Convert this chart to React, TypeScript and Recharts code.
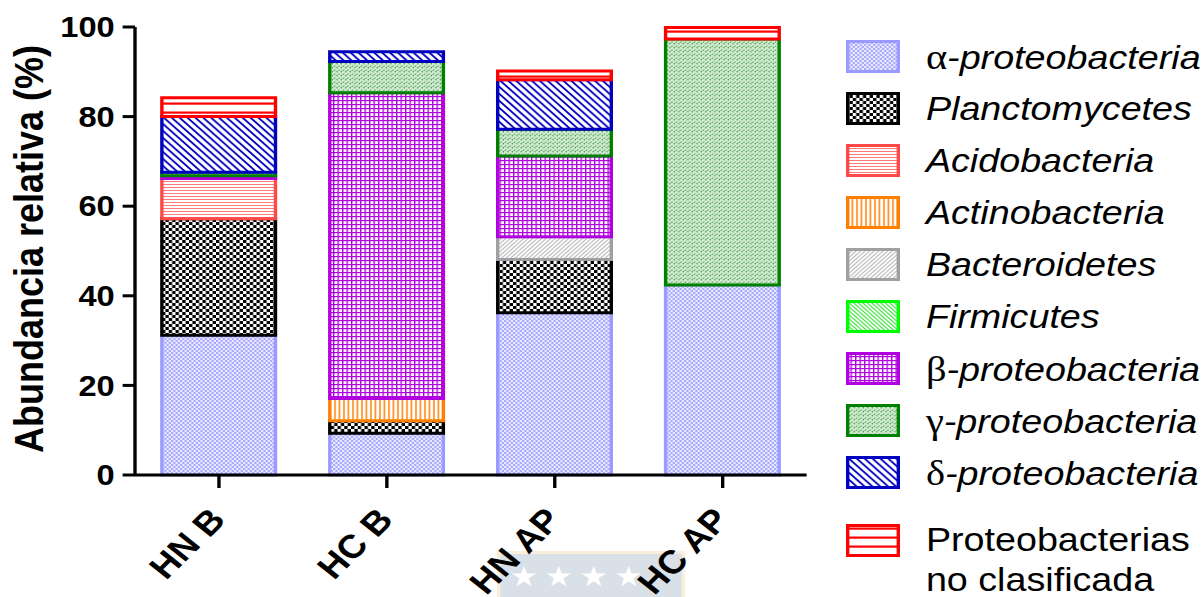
import { Bar, BarChart, XAxis, YAxis } from "recharts";

// groups on the x axis
const CATEGORIES = ["HN B", "HC B", "HN AP", "HC AP"];

// relative abundance (%) per group
const ALPHA_PROTEO = [31.2, 9.3, 36.2, 42.4];
const PLANCTOMYCETES = [26, 2.8, 11.9, 0];
const ACIDOBACTERIA = [9, 0, 0, 0];
const ACTINOBACTERIA = [0, 5, 0, 0];
const BACTEROIDETES = [0, 0, 5.1, 0];
const FIRMICUTES = [0, 0, 0, 0];
const BETA_PROTEO = [0.6, 68.2, 18, 0];
const GAMMA_PROTEO = [0.8, 7, 6, 54.9];
const DELTA_PROTEO = [12.4, 2.2, 11, 0];
const UNCLASSIFIED = [4.2, 0, 2, 2.6];

const Y_TICKS = [0, 20, 40, 60, 80, 100];

const SERIES = [
  { key: "alpha", values: ALPHA_PROTEO, color: "#9b9bff", pattern: "pat-alpha", greek: "α", name: "-proteobacteria" },
  { key: "plancto", values: PLANCTOMYCETES, color: "#000000", pattern: "pat-plancto", greek: "", name: "Planctomycetes" },
  { key: "acido", values: ACIDOBACTERIA, color: "#ff4848", pattern: "pat-acido", greek: "", name: "Acidobacteria" },
  { key: "actino", values: ACTINOBACTERIA, color: "#ff8000", pattern: "pat-actino", greek: "", name: "Actinobacteria" },
  { key: "bact", values: BACTEROIDETES, color: "#a0a0a4", pattern: "pat-bact", greek: "", name: "Bacteroidetes" },
  { key: "firm", values: FIRMICUTES, color: "#00ff00", pattern: "pat-firm", greek: "", name: "Firmicutes" },
  { key: "beta", values: BETA_PROTEO, color: "#b000e0", pattern: "pat-beta", greek: "β", name: "-proteobacteria" },
  { key: "gamma", values: GAMMA_PROTEO, color: "#008000", pattern: "pat-gamma", greek: "γ", name: "-proteobacteria" },
  { key: "delta", values: DELTA_PROTEO, color: "#0000c0", pattern: "pat-delta", greek: "δ", name: "-proteobacteria" },
  { key: "unclass", values: UNCLASSIFIED, color: "#ff0000", pattern: "pat-unclass", greek: "", name: "Proteobacterias no clasificada" },
];

const data = CATEGORIES.map((name, i) => {
  const row: Record<string, string | number> = { name };
  SERIES.forEach((s) => (row[s.key] = s.values[i]));
  return row;
});

// the original figure is stretched sideways, so the whole thing is drawn narrow and scaled
const STRETCH = 1.125;
const W = 1070;
const H = 597;
const FONT = '"Liberation Sans", Arial, sans-serif';

function Patterns() {
  return (
    <svg width={0} height={0} style={{ position: "absolute" }}>
      <defs>
        <pattern id="pat-alpha" width={4} height={4} patternUnits="userSpaceOnUse">
          <rect width={4} height={4} fill="#ececff" />
          <rect width={2} height={2} fill="#a8a8ff" />
          <rect x={2} y={2} width={2} height={2} fill="#a8a8ff" />
        </pattern>
        <pattern id="pat-plancto" width={6} height={6} patternUnits="userSpaceOnUse">
          <rect width={6} height={6} fill="#fff" />
          <rect width={3} height={3} fill="#000" />
          <rect x={3} y={3} width={3} height={3} fill="#000" />
        </pattern>
        <pattern id="pat-acido" width={4} height={3} patternUnits="userSpaceOnUse">
          <rect width={4} height={3} fill="#fff" />
          <rect y={1} width={4} height={1} fill="#ff7a7a" />
        </pattern>
        <pattern id="pat-actino" width={4} height={4} patternUnits="userSpaceOnUse">
          <rect width={4} height={4} fill="#fff" />
          <rect x={1} width={1.5} height={4} fill="#ff8c1a" />
        </pattern>
        <pattern id="pat-bact" width={4} height={4} patternUnits="userSpaceOnUse">
          <rect width={4} height={4} fill="#fff" />
          <path d="M0,4 L4,0 M-1,1 L1,-1 M3,5 L5,3" stroke="#b8b8b8" strokeWidth={1} />
        </pattern>
        <pattern id="pat-firm" width={4} height={4} patternUnits="userSpaceOnUse">
          <rect width={4} height={4} fill="#fff" />
          <path d="M0,0 L4,4 M-1,3 L1,5 M3,-1 L5,1" stroke="#33e033" strokeWidth={1} />
        </pattern>
        <pattern id="pat-beta" width={4} height={4} patternUnits="userSpaceOnUse">
          <rect width={4} height={4} fill="#fff" />
          <rect width={1.2} height={4} fill="#b000e0" />
          <rect width={4} height={1.2} fill="#b000e0" />
        </pattern>
        <pattern id="pat-gamma" width={4} height={4} patternUnits="userSpaceOnUse">
          <rect width={4} height={4} fill="#d6ebd6" />
          <path d="M0.5,3 L2,1.5 M2.5,4.5 L4,3" stroke="#3a9a3a" strokeWidth={0.9} />
          <rect x={3} y={0} width={1} height={1} fill="#8cc88c" />
        </pattern>
        <pattern id="pat-delta" width={7} height={7} patternUnits="userSpaceOnUse">
          <rect width={7} height={7} fill="#fff" />
          <path d="M0,0 L7,7 M-2,5 L2,9 M5,-2 L9,2" stroke="#0000c0" strokeWidth={1.7} />
        </pattern>
        <pattern id="pat-unclass" width={9} height={9} patternUnits="userSpaceOnUse">
          <rect width={9} height={9} fill="#fff" />
          <rect y={3.5} width={9} height={2.2} fill="#ff0000" />
        </pattern>
      </defs>
    </svg>
  );
}

function XTick(props: any) {
  const { x, y, payload } = props;
  return (
    <g transform={`translate(${x},${y})`}>
      <text
        x={0}
        y={0}
        transform="translate(7,31) rotate(-48)"
        textAnchor="end"
        fontFamily={FONT}
        fontWeight="bold"
        fontSize={33}
        fill="#000"
      >
        {payload.value}
      </text>
    </g>
  );
}

function YTitle(props: any) {
  const vb = props.viewBox;
  const cx = vb.x + 38;
  const cy = vb.y + vb.height / 2 - 2;
  return (
    <text
      x={cx}
      y={cy}
      transform={`rotate(-90 ${cx} ${cy})`}
      textAnchor="middle"
      fontFamily={FONT}
      fontWeight="bold"
      fontSize={36}
      fill="#000"
    >
      Abundancia relativa (%)
    </text>
  );
}

function Swatch({ fill, stroke }: { fill: string; stroke: string }) {
  return (
    <svg width={48} height={33} style={{ flex: "none" }}>
      <rect x={1.5} y={1.5} width={45} height={30} fill={fill} stroke={stroke} strokeWidth={3} />
    </svg>
  );
}

function LegendBox() {
  const main = SERIES.slice(0, 9);
  const last = SERIES[9];
  return (
    <div style={{ position: "absolute", left: 752, top: 0, fontFamily: FONT, fontSize: 33.5, color: "#000" }}>
      {main.map((s, i) => (
        <div
          key={s.key}
          style={{ position: "absolute", top: 56.5 + i * 52 - 26, height: 52, display: "flex", alignItems: "center", whiteSpace: "nowrap" }}
        >
          <Swatch fill={`url(#${s.pattern})`} stroke={s.color} />
          <span style={{ marginLeft: 23 }}>
            {s.greek && <span style={{ fontFamily: '"Liberation Serif", serif', fontSize: 36 }}>{s.greek}</span>}
            <i>{s.name}</i>
          </span>
        </div>
      ))}
      <div style={{ position: "absolute", top: 520, display: "flex", alignItems: "flex-start", whiteSpace: "nowrap" }}>
        <div style={{ marginTop: 3.5 }}>
          <Swatch fill={`url(#${last.pattern})`} stroke={last.color} />
        </div>
        <div style={{ marginLeft: 23, lineHeight: "40px" }}>
          Proteobacterias
          <br />
          no clasificada
        </div>
      </div>
    </div>
  );
}

function Watermark() {
  return (
    <div
      style={{
        position: "absolute",
        left: 442,
        top: 551,
        width: 167,
        height: 50,
        background: "#d9e0e8",
        border: "3px solid #fbeedb",
        boxSizing: "border-box",
        color: "#fff",
        fontSize: 28,
        letterSpacing: 6,
        paddingLeft: 8,
        paddingTop: 6,
        fontFamily: '"DejaVu Sans", sans-serif',
        whiteSpace: "nowrap",
      }}
    >
      ★★★★
    </div>
  );
}

export default function App() {
  return (
    <div
      style={{
        position: "absolute",
        left: 0,
        top: 0,
        width: W,
        height: H,
        background: "#fff",
        overflow: "hidden",
        transform: `scaleX(${STRETCH})`,
        transformOrigin: "0 0",
      }}
    >
      <Patterns />
      <Watermark />
      <BarChart
        width={W}
        height={H}
        data={data}
        margin={{ top: 27, right: 353, bottom: 0, left: 0 }}
        barCategoryGap="16%"
        style={{ position: "absolute", left: 0, top: 0 }}
      >
        <XAxis
          dataKey="name"
          height={122}
          interval={0}
          tickSize={13}
          axisLine={{ stroke: "#000", strokeWidth: 3 }}
          tickLine={{ stroke: "#000", strokeWidth: 3 }}
          tick={<XTick />}
        />
        <YAxis
          type="number"
          domain={[0, 100]}
          ticks={Y_TICKS}
          width={120}
          tickSize={11}
          tickMargin={7}
          axisLine={{ stroke: "#000", strokeWidth: 3 }}
          tickLine={{ stroke: "#000", strokeWidth: 3 }}
          tick={{ fontFamily: FONT, fontWeight: "bold", fontSize: 29, fill: "#000" }}
          label={{ content: (p: any) => <YTitle {...p} /> }}
        />
        {SERIES.map((s) => (
          <Bar
            key={s.key}
            dataKey={s.key}
            name={s.name}
            stackId="stack"
            fill={`url(#${s.pattern})`}
            stroke={s.color}
            strokeWidth={3}
            isAnimationActive={false}
          />
        ))}
      </BarChart>
      <LegendBox />
    </div>
  );
}
